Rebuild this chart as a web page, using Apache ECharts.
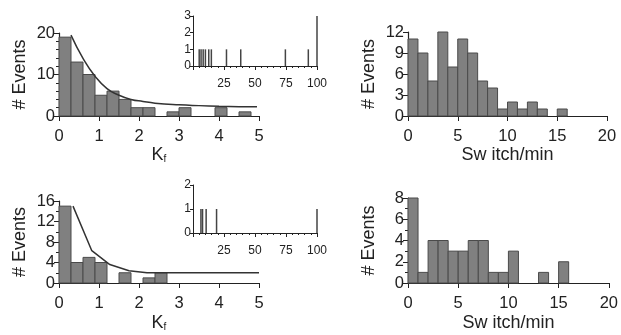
<!DOCTYPE html>
<html>
<head>
<meta charset="utf-8">
<script src="https://cdn.jsdelivr.net/npm/echarts@6/dist/echarts.min.js"></script>
<style>
  html, body { margin: 0; padding: 0; background: #fff; }
  #chart { width: 621px; height: 335px; }
</style>
</head>
<body>
<div id="chart"></div>
<script>
// Kf histograms (bin width 0.3, starting at 0)
const kfBinWidth = 0.3;
const kfCountsTop = [19, 13, 10, 5, 6, 4, 2, 2, 0, 1, 2, 0, 0, 2, 0, 1];
const kfCountsBottom = [15, 4, 5, 4, 0, 2, 0, 1, 2];

// fitted curves [Kf, events]
const kfCurveTop = [[0.3, 19.5], [0.6, 13.9], [0.9, 9.6], [1.2, 6.6], [1.5, 5.0], [1.8, 4.0],
  [2.1, 3.5], [2.4, 3.1], [3, 2.7], [3.5, 2.5], [4, 2.35], [4.5, 2.25], [4.95, 2.2]];
const kfCurveBottom = [[0.35, 15], [0.82, 6.3], [1.27, 3.6], [1.75, 2.4], [2.2, 2.0], [5, 2.0]];

// inset: large Kf values [Kf, events]
const insetTop = [[5, 1], [6.5, 1], [8.2, 1], [10, 1], [12.7, 1], [14.8, 1], [27, 1], [38.5, 1], [74.5, 1], [93, 1], [100, 3]];
const insetBottom = [[6.4, 1], [7.7, 1], [10.6, 1], [19, 1], [100, 1]];

// switch rate histograms (bin width 1, starting at 0)
const swBinWidth = 1;
const swCountsTop = [11, 9, 5, 12, 7, 11, 9, 5, 4, 1, 2, 1, 2, 1, 0, 1];
const swCountsBottom = [8, 1, 4, 4, 3, 3, 4, 4, 1, 1, 3, 0, 0, 1, 0, 2];

const ink = '#222';
const font = 'Liberation Sans, Arial, sans-serif';

function binData(counts, width) {
  return counts.map((c, i) => [i * width, (i + 1) * width, c]);
}

function histRender(params, api) {
  const v = api.value(2);
  if (!v) return null;
  const p0 = api.coord([api.value(0), 0]);
  const p1 = api.coord([api.value(1), v]);
  return {
    type: 'rect',
    shape: { x: p0[0], y: p1[1], width: p1[0] - p0[0], height: p0[1] - p1[1] },
    style: { fill: '#808080', stroke: '#4a4a4a', lineWidth: 1 }
  };
}

function mainX(idx, max, interval, name, gap) {
  return {
    gridIndex: idx, type: 'value', min: 0, max: max, interval: interval,
    name: name, nameLocation: 'middle', nameGap: gap,
    nameTextStyle: {
      color: ink, fontSize: 18, fontFamily: font,
      rich: {
        k: { fontSize: 18, color: ink, fontFamily: font },
        s: { fontSize: 10, color: ink, fontFamily: font, verticalAlign: 'bottom', padding: [8, 0, 0, 0] }
      }
    },
    axisLine: { lineStyle: { color: ink, width: 1.2 } },
    axisTick: { inside: false, length: 5, lineStyle: { color: ink } },
    axisLabel: { color: ink, fontSize: 16.5, fontFamily: font, margin: 12 },
    splitLine: { show: false }
  };
}

function mainY(idx, max, interval, minorSplit) {
  return {
    gridIndex: idx, type: 'value', min: 0, max: max, interval: interval,
    name: '# Events', nameLocation: 'middle', nameGap: 30,
    nameTextStyle: { color: ink, fontSize: 18, fontFamily: font },
    axisLine: { show: true, lineStyle: { color: ink, width: 1.2 } },
    axisTick: { show: true, length: 5, lineStyle: { color: ink } },
    minorTick: { show: minorSplit > 0, splitNumber: minorSplit || 2, length: 3, lineStyle: { color: ink } },
    axisLabel: { color: ink, fontSize: 16.5, fontFamily: font, margin: 4 },
    splitLine: { show: false }
  };
}

function insetX(idx) {
  return {
    gridIndex: idx, type: 'value', min: 0, max: 100, interval: 25,
    axisLine: { lineStyle: { color: ink, width: 1 } },
    axisTick: { length: 4, lineStyle: { color: ink } },
    minorTick: { show: true, splitNumber: 5, length: 2, lineStyle: { color: ink } },
    axisLabel: { color: ink, fontSize: 12, fontFamily: font, margin: 12, formatter: v => v === 0 ? '' : v },
    splitLine: { show: false }
  };
}

function insetY(idx, max) {
  return {
    gridIndex: idx, type: 'value', min: 0, max: max, interval: 1,
    axisLine: { show: true, lineStyle: { color: ink, width: 1 } },
    axisTick: { show: true, length: 3, lineStyle: { color: ink } },
    axisLabel: { color: ink, fontSize: 12, fontFamily: font, margin: 2 },
    splitLine: { show: false }
  };
}

const chart = echarts.init(document.getElementById('chart'), null, { renderer: 'canvas' });
chart.setOption({
  animation: false,
  backgroundColor: '#fff',
  grid: [
    { left: 59, top: 33, width: 200, height: 83 },
    { left: 59, top: 201, width: 200, height: 82 },
    { left: 408, top: 32, width: 199, height: 84 },
    { left: 408, top: 198, width: 201, height: 85 },
    { left: 193, top: 16, width: 124, height: 50 },
    { left: 193, top: 185, width: 124, height: 48 }
  ],
  xAxis: [
    mainX(0, 5, 1, '{k|K}{s|f}', 27),
    mainX(1, 5, 1, '{k|K}{s|f}', 31),
    mainX(2, 20, 5, 'Sw itch/min', 26),
    mainX(3, 20, 5, 'Sw itch/min', 31),
    insetX(4),
    insetX(5)
  ],
  yAxis: [
    mainY(0, 20, 10, 5),
    mainY(1, 16, 4, 2),
    mainY(2, 12, 3, 0),
    mainY(3, 8, 2, 2),
    insetY(4, 3),
    insetY(5, 2)
  ],
  series: [
    { type: 'custom', xAxisIndex: 0, yAxisIndex: 0, renderItem: histRender, data: binData(kfCountsTop, kfBinWidth) },
    { type: 'line', xAxisIndex: 0, yAxisIndex: 0, data: kfCurveTop, smooth: true, showSymbol: false,
      lineStyle: { color: '#333', width: 1.5 } },
    { type: 'custom', xAxisIndex: 1, yAxisIndex: 1, renderItem: histRender, data: binData(kfCountsBottom, kfBinWidth) },
    { type: 'line', xAxisIndex: 1, yAxisIndex: 1, data: kfCurveBottom, smooth: false, showSymbol: false,
      lineStyle: { color: '#333', width: 1.5 } },
    { type: 'custom', xAxisIndex: 2, yAxisIndex: 2, renderItem: histRender, data: binData(swCountsTop, swBinWidth) },
    { type: 'custom', xAxisIndex: 3, yAxisIndex: 3, renderItem: histRender, data: binData(swCountsBottom, swBinWidth) },
    { type: 'bar', xAxisIndex: 4, yAxisIndex: 4, data: insetTop, barWidth: 1.5, itemStyle: { color: '#444' } },
    { type: 'bar', xAxisIndex: 5, yAxisIndex: 5, data: insetBottom, barWidth: 1.5, itemStyle: { color: '#444' } }
  ]
});
</script>
</body>
</html>
